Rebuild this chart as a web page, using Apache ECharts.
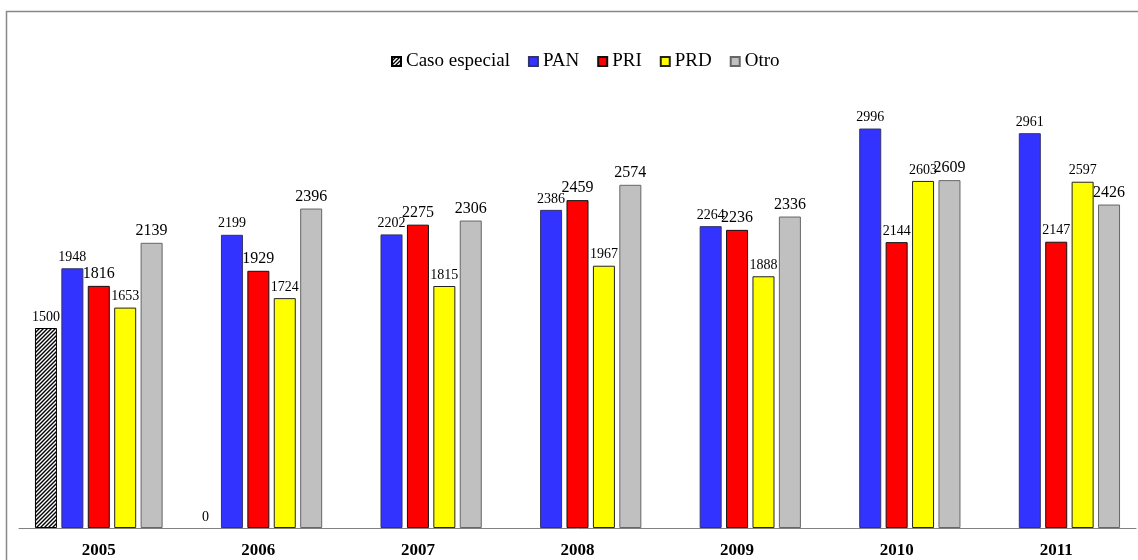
<!DOCTYPE html>
<html>
<head>
<meta charset="utf-8">
<script src="https://cdn.jsdelivr.net/npm/echarts@6/dist/echarts.min.js"></script>
<style>
html,body{margin:0;padding:0;background:#fff;}
#chart{width:1138px;height:560px;}
</style>
</head>
<body>
<div id="chart"></div>
<script>
const years = ['2005','2006','2007','2008','2009','2010','2011'];
const seriesNames = ['Caso especial','PAN','PRI','PRD','Otro'];
const casoEspecial = [1500, 0, null, null, null, null, null];
const pan = [1948, 2199, 2202, 2386, 2264, 2996, 2961];
const pri = [1816, 1929, 2275, 2459, 2236, 2144, 2147];
const prd = [1653, 1724, 1815, 1967, 1888, 2603, 2597];
const otro = [2139, 2396, 2306, 2574, 2336, 2609, 2426];

// hatch pattern
const pc = document.createElement('canvas');
pc.width = 4; pc.height = 4;
const g = pc.getContext('2d');
g.fillStyle = '#fff'; g.fillRect(0,0,4,4);
g.strokeStyle = '#000'; g.lineWidth = 1.4;
g.beginPath();
g.moveTo(-1,5); g.lineTo(5,-1);
g.moveTo(-3,3); g.lineTo(3,-3);
g.moveTo(1,7); g.lineTo(7,1);
g.stroke();
const hatch = {image: pc, repeat: 'repeat'};

const FONT = 'Liberation Serif';
const small = 14, large = 16;
const priSmallYears = ['2010','2011'];

function mk(name, values, color, border, fs, smallYears) {
  return {
    name: name,
    type: 'bar',
    barGap: '20%',
    barCategoryGap: '20%',
    itemStyle: {color: color, borderColor: border, borderWidth: 1},
    label: {show: true, position: 'top', distance: 4, color: '#000', fontFamily: FONT, fontSize: fs},
    data: values.map((v, i) => {
      const d = {value: v};
      if (smallYears && smallYears.indexOf(years[i]) >= 0) d.label = {fontSize: small};
      if (v === 0) d.itemStyle = {borderWidth: 0};
      return d;
    })
  };
}

const chart = echarts.init(document.getElementById('chart'));
chart.setOption({
  animation: false,
  backgroundColor: '#fff',
  legend: {
    data: seriesNames,
    left: 386, top: 47,
    icon: 'rect',
    itemWidth: 9, itemHeight: 9, itemGap: 18,
    textStyle: {fontFamily: FONT, fontSize: 19, color: '#000'}
  },
  grid: {left: 19, right: 2, top: 128, bottom: 32},
  xAxis: {
    type: 'category',
    data: years,
    axisLine: {lineStyle: {color: '#808080', width: 1}},
    axisTick: {show: false},
    axisLabel: {fontFamily: FONT, fontSize: 17, fontWeight: 'bold', color: '#000', margin: 14}
  },
  yAxis: {type: 'value', min: 0, max: 3000, show: false, splitLine: {show: false}},
  graphic: [{
    type: 'polyline',
    shape: {points: [[6.5, 560], [6.5, 11.5], [1138, 11.5]]},
    style: {stroke: '#888', lineWidth: 1.5, fill: null},
    silent: true
  }],
  series: [
    mk('Caso especial', casoEspecial, hatch, '#000', small),
    mk('PAN', pan, '#3333FF', '#333366', small),
    mk('PRI', pri, '#FF0000', '#111', large, priSmallYears),
    mk('PRD', prd, '#FFFF00', '#222', small),
    mk('Otro', otro, '#C0C0C0', '#666', large)
  ]
});
</script>
</body>
</html>
